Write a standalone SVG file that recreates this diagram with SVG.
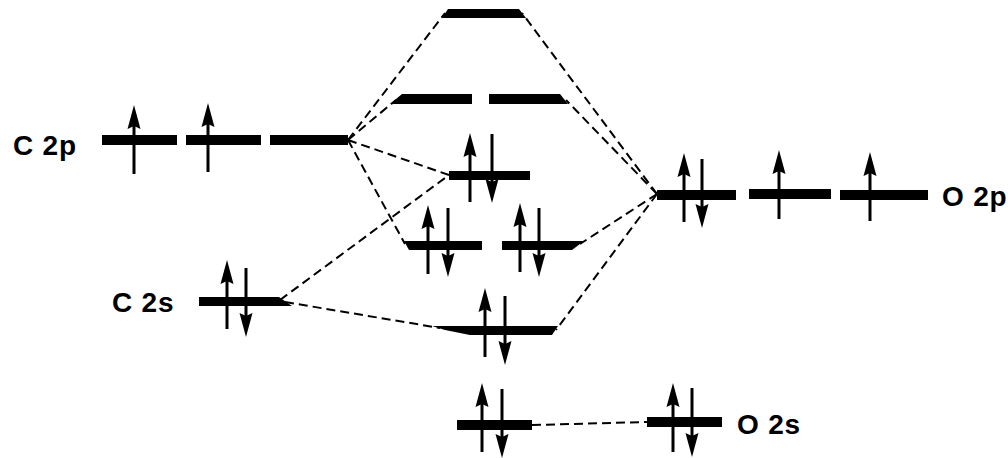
<svg xmlns="http://www.w3.org/2000/svg" xmlns:xlink="http://www.w3.org/1999/xlink" width="1008" height="458" viewBox="0 0 1008 458">
<style>
.lvl{fill:#000}
.dash{fill:none;stroke:#000;stroke-width:2;stroke-dasharray:9 5}
.lbl{font-family:"Liberation Sans",Arial,sans-serif;font-weight:bold;font-size:28px;letter-spacing:0.8px;fill:#000}
</style>
<defs>
<g id="up"><line x1="0" y1="18" x2="0" y2="69" stroke="#000" stroke-width="3"/><polygon points="0,0 -6.5,24 0,21 6.5,24" fill="#000"/></g>
<g id="dn"><line x1="0" y1="-18" x2="0" y2="-69" stroke="#000" stroke-width="3"/><polygon points="0,0 -6.5,-24 0,-21 6.5,-24" fill="#000"/></g>
</defs>
<rect width="1008" height="458" fill="#fff"/>
<g id="connectors">
<line class="dash" x1="348" y1="140" x2="445" y2="13"/>
<line class="dash" x1="348" y1="140" x2="396" y2="100"/>
<line class="dash" x1="348" y1="140" x2="449" y2="175"/>
<line class="dash" x1="348" y1="140" x2="405" y2="244"/>
<line class="dash" x1="280" y1="300" x2="449" y2="175"/>
<line class="dash" x1="285" y1="302" x2="440" y2="328"/>
<line class="dash" x1="657" y1="194" x2="522" y2="13"/>
<line class="dash" x1="657" y1="194" x2="566" y2="100"/>
<line class="dash" x1="657" y1="194" x2="580" y2="244"/>
<line class="dash" x1="657" y1="194" x2="556" y2="330"/>
<line class="dash" x1="532" y1="425" x2="647" y2="422"/>
</g>
<g id="c2p">
<text class="lbl" x="13" y="155">C 2p</text>
<rect class="lvl" x="102" y="135" width="75" height="10"/>
<rect class="lvl" x="186" y="135" width="75" height="10"/>
<rect class="lvl" x="270" y="135" width="78" height="10"/>
<use xlink:href="#up" x="134" y="105"/>
<use xlink:href="#up" x="208" y="103"/>
</g>
<g id="c2s">
<text class="lbl" x="112" y="312">C 2s</text>
<polygon class="lvl" points="199,297 279,297 292,306 199,306"/>
<use xlink:href="#up" x="227" y="260"/>
<use xlink:href="#dn" x="246" y="337"/>
</g>
<g id="mo6">
<polygon class="lvl" points="448,9 519,9 526,18 442,18"/>
</g>
<g id="mo45">
<polygon class="lvl" points="402,94 472,94 472,104 390,104"/>
<polygon class="lvl" points="489,94 560,94 568,104 489,104"/>
</g>
<g id="mo3">
<rect class="lvl" x="449" y="171" width="81" height="9"/>
<use xlink:href="#up" x="470" y="133"/>
<use xlink:href="#dn" x="492" y="203"/>
</g>
<g id="mo12">
<polygon class="lvl" points="404,241 482,241 482,250 409,250"/>
<polygon class="lvl" points="502,241 584,241 572,250 502,250"/>
<use xlink:href="#up" x="428" y="205"/>
<use xlink:href="#dn" x="448" y="277"/>
<use xlink:href="#up" x="520" y="203"/>
<use xlink:href="#dn" x="539" y="277"/>
</g>
<g id="mo0">
<polygon class="lvl" points="432,326 558,326 552,335 470,335 445,330"/>
<use xlink:href="#up" x="485" y="288"/>
<use xlink:href="#dn" x="505" y="365"/>
</g>
<g id="o2p">
<rect class="lvl" x="657" y="190" width="79" height="10"/>
<rect class="lvl" x="749" y="189" width="82" height="10"/>
<rect class="lvl" x="840" y="190" width="88" height="10"/>
<use xlink:href="#up" x="684" y="153"/>
<use xlink:href="#dn" x="702" y="228"/>
<use xlink:href="#up" x="779" y="150"/>
<use xlink:href="#up" x="870" y="152"/>
<text class="lbl" x="942" y="206">O 2p</text>
</g>
<g id="o2s-mo">
<rect class="lvl" x="457" y="420" width="75" height="10"/>
<use xlink:href="#up" x="482" y="383"/>
<use xlink:href="#dn" x="502" y="458"/>
</g>
<g id="o2s">
<rect class="lvl" x="647" y="417" width="75" height="10"/>
<use xlink:href="#up" x="673" y="383"/>
<use xlink:href="#dn" x="692" y="457"/>
<text class="lbl" x="737" y="434">O 2s</text>
</g>
</svg>
